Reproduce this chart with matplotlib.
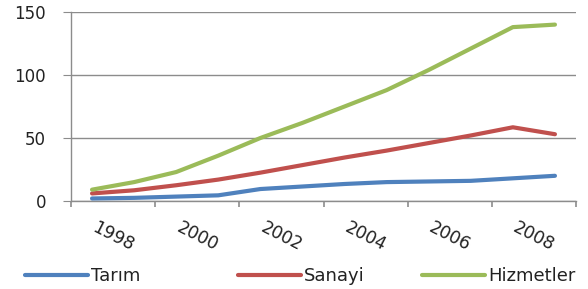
import numpy as np
import matplotlib
matplotlib.use("Agg")
import matplotlib.pyplot as plt

# yearly values (1998-2009)
years = [1998, 1999, 2000, 2001, 2002, 2003, 2004, 2005, 2006, 2007, 2008, 2009]
tarim = [2, 2.5, 3.5, 4.5, 9.5, 11.5, 13.5, 15, 15.5, 16, 18, 20]
sanayi = [6, 8.5, 12.5, 17, 22.5, 28.5, 34.5, 40, 46, 52, 58.5, 53]
hizmetler = [9, 15, 23, 36, 50, 62, 75, 88, 104, 121, 138, 140]
year_labels = ["1998", "2000", "2002", "2004", "2006", "2008"]
series_names = ["Tarım", "Sanayi", "Hizmetler"]

colors = ["#4F81BD", "#C0504D", "#9BBB59"]

fig = plt.figure(figsize=(5.88, 2.89), dpi=100)
ax = fig.add_axes([71/588, 88/289, 505/588, 189/289])

x = np.arange(len(years))
lines = []
for vals, c in zip([tarim, sanayi, hizmetler], colors):
    ln, = ax.plot(x, vals, color=c, lw=3.0, solid_capstyle="round", zorder=3)
    lines.append(ln)

ax.set_xlim(-0.5, len(years) - 0.5)
ax.set_ylim(0, 150)
ax.set_yticks([0, 50, 100, 150])
ax.set_xticks(np.arange(-0.5, len(years), 2))
ax.set_xticklabels([])
ax.grid(axis="y", color="#8c8c8c", lw=1.0)
ax.set_axisbelow(True)
for s in ["top", "right"]:
    ax.spines[s].set_visible(False)
for s in ["left", "bottom"]:
    ax.spines[s].set_color("#8c8c8c")
    ax.spines[s].set_linewidth(1.0)
ax.tick_params(axis="y", length=6, color="#8c8c8c", pad=12, labelsize=12, labelcolor="#222222")
ax.tick_params(axis="x", length=4, width=1.2, color="#8c8c8c")

# slanted year labels, each sitting half a category right of its year
label_x = [years.index(int(l)) + 0.5 for l in year_labels]
for lx, lab in zip(label_x, year_labels):
    ax.text(lx, -0.19, lab, transform=ax.get_xaxis_transform(), rotation=-27,
            rotation_mode="anchor", ha="center", va="center", fontsize=12.5,
            color="#222222")

# legend entries spread along the bottom edge
leg_x = [25/588, 238/588, 422/588]
for ln, name, lx in zip(lines, series_names, leg_x):
    leg = fig.legend(handles=[ln], labels=[name], loc="center left",
                     bbox_to_anchor=(lx, 0.045), frameon=False, fontsize=13,
                     handlelength=3.5, handletextpad=0.15, borderpad=0,
                     borderaxespad=0)
    for t in leg.get_texts():
        t.set_color("#222222")

fig.savefig("out.png", dpi=100)
